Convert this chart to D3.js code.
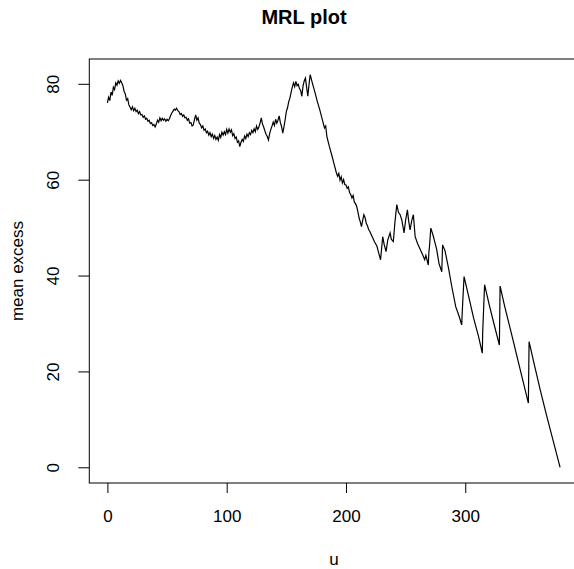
<!DOCTYPE html>
<html>
<head>
<meta charset="utf-8">
<script src="https://cdn.jsdelivr.net/npm/d3@7"></script>
<style>
  body { margin: 0; background: #fff; }
  text { font-family: "Liberation Sans", Arial, sans-serif; fill: #000; }
</style>
</head>
<body>
<script>
// threshold u and mean excess
const thresholds = [
  0,1,2,3,4,5,6,7,8,9,10,11,12,13,14,15,16,17,18,19,20,21,22,23,24,25,26,27,28,29,
  30,31,32,33,34,35,36,37,38,39,40,41,42,43,44,45,46,47,48,49,50,51,52,53,54,55,56,57,58,59,
  60,61,62,63,64,65,66,67,68,69,70,71,72,73,74,75,76,77,78,79,80,81,82,83,84,85,86,87,88,89,
  90,91,92,93,94,95,96,97,98,99,100,101,102,103,104,105,106,107,108,109,110,111,112,113,114,115,116,117,118,119,
  120,121,122,123,124,125,126,127,128,129,130,131,132,133,134,135,136,137,138,139,140,141,142,143,144,145,146,147,148,149,
  150,151,152,153,154,155,156,157,158,159,160,161,162,163,164,165,166,167,168,169,170,
  172,174,176,178,180,182,183,184,186,188,190,192,193,194,195,196,197,198,199,200,
  201,202,203,204,205,206,207,208,209,210,211,212,213,214,215,216,217,218,219,220,
  222,224,226,227,228,229,230,230.8,232,233.6,235,237,238,239.7,241,242.6,244,245.4,246.8,248.7,
  250,251.5,252.5,253.7,255,256.5,258,260,262,264,266,267,269,269.5,270,271.1,273,276,278,280.3,
  281,283,286,289,292,295,297,297.9,299,303,307,311,314.3,314.6,316.2,320,324,328.6,329.2,
  333,338,343,348,352.9,353.5,358,363,368,373,379.5
];
const meanExcess = [
  76.0,77.2,76.5,78.3,77.6,79.3,78.8,80.2,79.7,80.6,80.1,80.7,80.2,79.6,78.4,77.9,76.6,76.9,75.6,75.1,74.6,75.2,74.4,74.9,74.2,74.5,73.8,74.2,73.5,73.6,
  73.0,73.3,72.6,72.8,72.2,72.4,71.7,71.9,71.3,71.5,71.0,71.6,72.4,72.0,72.9,72.3,72.8,72.4,72.7,72.2,72.6,72.3,72.7,73.4,73.9,74.3,74.7,74.5,74.9,74.4,
  74.2,73.6,73.8,73.2,73.5,72.9,73.0,72.4,72.7,71.8,71.9,71.2,71.4,72.6,73.5,72.4,72.9,71.8,71.5,70.8,71.2,70.3,70.6,69.8,70.1,69.3,69.8,69.0,69.5,68.6,
  69.2,68.4,68.9,68.2,69.4,68.8,69.9,69.3,70.0,69.4,70.5,69.7,70.6,69.9,70.4,69.2,69.6,68.6,68.9,67.8,68.1,66.9,67.8,68.4,68.0,69.1,68.6,69.5,69.0,69.8,
  69.4,70.3,69.8,70.6,70.0,71.2,70.5,71.0,71.8,72.9,71.6,71.0,70.2,69.5,69.0,68.3,69.6,70.5,71.2,72.0,71.3,72.6,71.8,72.4,73.3,71.9,71.1,69.7,71.0,72.5,
  74.2,75.0,76.3,77.0,78.2,79.3,80.2,79.4,80.5,79.6,79.9,79.0,78.6,77.4,79.5,80.6,81.2,79.3,77.4,79.8,81.9,
  80.0,78.2,76.3,74.6,72.7,70.8,71.2,69.0,67.0,65.2,63.3,61.4,60.7,61.3,59.9,60.6,59.3,60.0,59.0,58.9,
  58.2,58.5,57.3,56.9,56.2,56.7,55.3,55.0,54.4,53.3,52.0,51.2,50.2,51.5,52.7,52.1,50.9,50.4,49.6,49.2,
  48.1,47.0,46.1,45.1,44.2,43.3,46.0,48.1,46.5,45.0,47.4,48.9,47.6,47.1,51.0,54.8,53.2,52.7,51.6,48.9,
  51.5,53.7,51.5,49.5,51.3,52.7,48.1,46.7,45.6,44.5,43.3,44.2,42.2,44.9,46.0,49.9,48.4,45.5,42.5,40.8,
  46.4,45.2,41.5,37.3,33.5,31.4,29.7,34.6,39.8,35.5,31.1,27.4,23.8,28.0,38.1,34.0,30.0,25.5,37.8,
  33.6,28.6,23.5,18.4,13.4,26.2,21.3,16.0,11.0,6.2,0.0
];
const xTicks = [0, 100, 200, 300];
const yTicks = [0, 20, 40, 60, 80];

const width = 574;
const height = 569;
const plot = { left: 89.3, right: 578.2, top: 59, bottom: 483 };

const svg = d3.select('body').append('svg')
  .attr('width', width)
  .attr('height', height);

// R-style 4% padding round the data range
const xMin = d3.min(thresholds), xMax = d3.max(thresholds);
const yMin = d3.min(meanExcess), yMax = d3.max(meanExcess);
const xPad = (xMax - xMin) * 0.04, yPad = (yMax - yMin) * 0.04;

const x = d3.scaleLinear()
  .domain([xMin - xPad, xMax + xPad])
  .range([plot.left, plot.right]);
const y = d3.scaleLinear()
  .domain([yMin - yPad, yMax + yPad])
  .range([plot.bottom, plot.top]);

// the line
const line = d3.line()
  .x(function(d, i) { return x(thresholds[i]); })
  .y(function(d) { return y(d); });

svg.append('path')
  .datum(meanExcess)
  .attr('d', line)
  .attr('fill', 'none')
  .attr('stroke', '#000')
  .attr('stroke-width', 1.2)
  .attr('stroke-linejoin', 'miter');

// box
svg.append('rect')
  .attr('x', plot.left)
  .attr('y', plot.top)
  .attr('width', plot.right - plot.left)
  .attr('height', plot.bottom - plot.top)
  .attr('fill', 'none')
  .attr('stroke', '#000')
  .attr('stroke-width', 1);

// x axis
const gx = svg.append('g')
  .attr('transform', 'translate(0,' + plot.bottom + ')')
  .call(d3.axisBottom(x).tickValues(xTicks).tickSize(10).tickFormat(d3.format('d')));
gx.select('.domain').remove();
gx.selectAll('line').attr('stroke', '#000');
gx.selectAll('text')
  .attr('y', 39)
  .attr('dy', 0)
  .style('font-size', '17px')
  .style('font-family', '"Liberation Sans", Arial, sans-serif')
  .attr('fill', '#000');

// y axis, labels turned like R does
const gy = svg.append('g')
  .attr('transform', 'translate(' + plot.left + ',0)')
  .call(d3.axisLeft(y).tickValues(yTicks).tickSize(11).tickFormat(d3.format('d')));
gy.select('.domain').remove();
gy.selectAll('line').attr('stroke', '#000');
gy.selectAll('text')
  .attr('x', 0)
  .attr('y', -30)
  .attr('dy', 0)
  .attr('text-anchor', 'middle')
  .attr('transform', 'rotate(-90)')
  .style('font-size', '17px')
  .style('font-family', '"Liberation Sans", Arial, sans-serif')
  .attr('fill', '#000');

// title and axis titles
svg.append('text')
  .attr('x', 304)
  .attr('y', 24)
  .attr('text-anchor', 'middle')
  .style('font-size', '20px')
  .style('font-weight', 'bold')
  .text('MRL plot');

svg.append('text')
  .attr('x', 334)
  .attr('y', 565)
  .attr('text-anchor', 'middle')
  .style('font-size', '17px')
  .text('u');

svg.append('text')
  .attr('transform', 'translate(23,271) rotate(-90)')
  .attr('text-anchor', 'middle')
  .style('font-size', '17px')
  .text('mean excess');
</script>
</body>
</html>
